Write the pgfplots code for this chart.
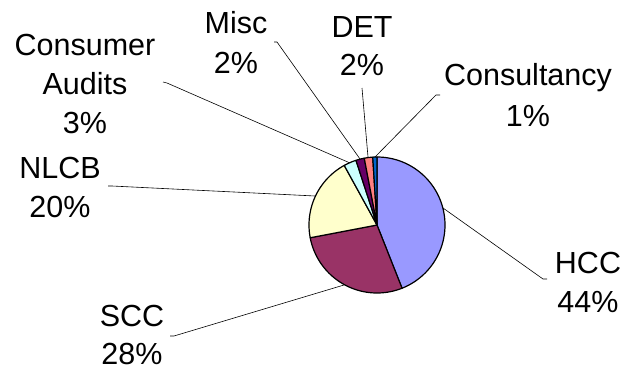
\documentclass[border=0pt]{standalone}
\usepackage{pgfplots}
\pgfplotsset{compat=1.18}
\usepackage{fontspec}
\setmainfont{Liberation Sans}

\definecolor{cHCC}{HTML}{9999FF}
\definecolor{cSCC}{HTML}{993366}
\definecolor{cNLCB}{HTML}{FFFFCC}
\definecolor{cCA}{HTML}{CCFFFF}
\definecolor{cMisc}{HTML}{660066}
\definecolor{cDET}{HTML}{FF8080}
\definecolor{cCons}{HTML}{0066CC}

\tikzset{lbl/.style={anchor=base, inner sep=0pt,
  font=\fontsize{30.5bp}{40bp}\selectfont}}

% pie centre and radius (axis units = bp, y grows downwards)
\def\cx{377}\def\cy{225}\def\rr{68}

% \slice{cumulative percent before}{percent}{colour}
\newcommand\slice[3]{%
  \pgfmathsetmacro\sa{#1*3.6}%
  \pgfmathsetmacro\sb{(#1+#2)*3.6}%
  \edef\doslice{\noexpand\addplot[draw=black, line width=1.2pt, line join=round,
    fill=#3, domain=\sa:\sb, samples=80]
    ({\cx+\rr*sin(x)},{\cy-\rr*cos(x)}) -- (axis cs:\cx,\cy) -- cycle;}%
  \doslice}

\newcommand\lab[5]{% x, baseline1, baseline2, line1, line2
  \node[lbl] at (axis cs:#1,#2) {#4};
  \node[lbl] at (axis cs:#1,#3) {#5};}

\begin{document}
\begin{tikzpicture}
\begin{axis}[
  scale only axis, width=634bp, height=371bp,
  xmin=0, xmax=634, ymin=0, ymax=371, y dir=reverse,
  hide axis, clip=false,
]
\path (axis cs:0,0) rectangle (axis cs:634,371);

% slices, clockwise from twelve o'clock
\slice{0}{44}{cHCC}
\slice{44}{28}{cSCC}
\slice{72}{20}{cNLCB}
\slice{92}{3}{cCA}
\slice{95}{2}{cMisc}
\slice{97}{2}{cDET}
\slice{99}{1}{cCons}

% leader lines
\addplot[black, line width=0.6pt] coordinates {(547,279) (543,279) (443,208)};
\addplot[black, line width=0.6pt] coordinates {(170,336) (174,336) (344,285)};
\addplot[black, line width=0.6pt] coordinates {(108,186) (112,186) (315,196)};
\addplot[black, line width=0.6pt] coordinates {(163,82) (167,83) (350,163)};
\addplot[black, line width=0.6pt] coordinates {(274,42) (277,42) (360,159)};
\addplot[black, line width=0.6pt] coordinates {(362,88) (368,157)};
\addplot[black, line width=0.6pt] coordinates {(440,95) (436,95) (375,157)};

% labels
\lab{588}{273}{312}{HCC}{44\%}
\lab{132}{326}{364}{SCC}{28\%}
\lab{60}{178}{217}{NLCB}{20\%}
\node[lbl] at (axis cs:85,55) {Consumer};
\lab{85}{94}{133}{Audits}{3\%}
\lab{236}{33}{73}{Misc}{2\%}
\lab{362}{37}{75}{DET}{2\%}
\lab{528}{85}{126}{Consultancy}{1\%}
\end{axis}
\end{tikzpicture}
\end{document}
